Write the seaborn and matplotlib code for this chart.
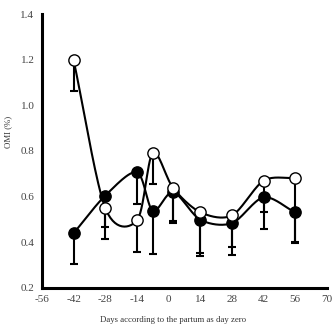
import numpy as np
import pandas as pd
import matplotlib
matplotlib.use("Agg")
import matplotlib.pyplot as plt
import seaborn as sns

# Data
days = [-42, -28, -14, -7, 2, 14, 28, 42, 56]
filled_mean = [0.439, 0.604, 0.706, 0.537, 0.619, 0.498, 0.483, 0.596, 0.530]
filled_low = [0.303, 0.413, 0.568, 0.348, 0.493, 0.351, 0.378, 0.457, 0.400]
open_mean = [1.197, 0.549, 0.495, 0.791, 0.637, 0.531, 0.517, 0.669, 0.681]
open_low = [1.062, 0.468, 0.358, 0.656, 0.483, 0.341, 0.344, 0.534, 0.395]

x_ticks = [-56, -42, -28, -14, 0, 14, 28, 42, 56, 70]
y_ticks = [0.2, 0.4, 0.6, 0.8, 1.0, 1.2, 1.4]
x_label = "Days according to the partum as day zero"
y_label = "OMI (%)"

sns.set_style("white")
plt.rcParams['font.family'] = ['Liberation Serif', 'DejaVu Serif']

def cardinal(x, y, c=0.45, n=30):
    """Cardinal-spline rendering of the line through the data points."""
    P = np.column_stack([np.asarray(x, float), np.asarray(y, float)])
    Q = np.vstack([2 * P[0] - P[1], P, 2 * P[-1] - P[-2]])
    out = []
    for i in range(1, len(Q) - 2):
        p0, p1, p2, p3 = Q[i - 1], Q[i], Q[i + 1], Q[i + 2]
        m1 = c * (p2 - p0)
        m2 = c * (p3 - p1)
        t = np.linspace(0, 1, n, endpoint=False)[:, None]
        h00 = 2 * t**3 - 3 * t**2 + 1
        h10 = t**3 - 2 * t**2 + t
        h01 = -2 * t**3 + 3 * t**2
        h11 = t**3 - t**2
        out.append(h00 * p1 + h10 * m1 + h01 * p2 + h11 * m2)
    out.append(P[-1][None, :])
    res = np.vstack(out)
    return res[:, 0], res[:, 1]

fig = plt.figure(figsize=(3.36, 3.26), dpi=100)
ax = fig.add_axes([0.125, 0.1175, 0.848, 0.8395])

for mean, low in [(filled_mean, filled_low), (open_mean, open_low)]:
    mean = np.asarray(mean); low = np.asarray(low)
    ax.errorbar(days, mean, yerr=[mean - low, np.zeros_like(mean)], fmt='none',
                ecolor='black', elinewidth=1.5, capsize=2.6, capthick=1.5, zorder=2)

for mean, fc in [(filled_mean, 'black'), (open_mean, 'white')]:
    sx, sy = cardinal(days, mean)
    df = pd.DataFrame({'x': sx, 'y': sy})
    sns.lineplot(data=df, x='x', y='y', sort=False, estimator=None, color='black',
                 linewidth=1.5, ax=ax, zorder=3)
    pts = pd.DataFrame({'x': days, 'y': mean})
    sns.scatterplot(data=pts, x='x', y='y', ax=ax, s=66, color=fc,
                    edgecolor='black', linewidth=1.0, zorder=4)

ax.set_xlim(-56, 70)
ax.set_ylim(0.2, 1.4)
ax.set_xticks(x_ticks)
ax.set_xticklabels([str(v) for v in x_ticks])
ax.set_yticks(y_ticks)
ax.set_yticklabels([f"{v:.1f}" for v in y_ticks])
for s in ['top', 'right']:
    ax.spines[s].set_visible(False)
for s in ['left', 'bottom']:
    ax.spines[s].set_linewidth(2.2)
    ax.spines[s].set_color('black')
ax.tick_params(axis='both', direction='inout', length=3, width=1.5, labelsize=8,
               colors='black', labelcolor='#444444', pad=4)
ax.set_xlabel(x_label, fontsize=6.3, color='#333333')
ax.set_ylabel(y_label, fontsize=6.3, color='#333333')
ax.xaxis.set_label_coords(0.46, -0.103)
ax.yaxis.set_label_coords(-0.105, 0.57)

fig.savefig("out.png", dpi=100)
